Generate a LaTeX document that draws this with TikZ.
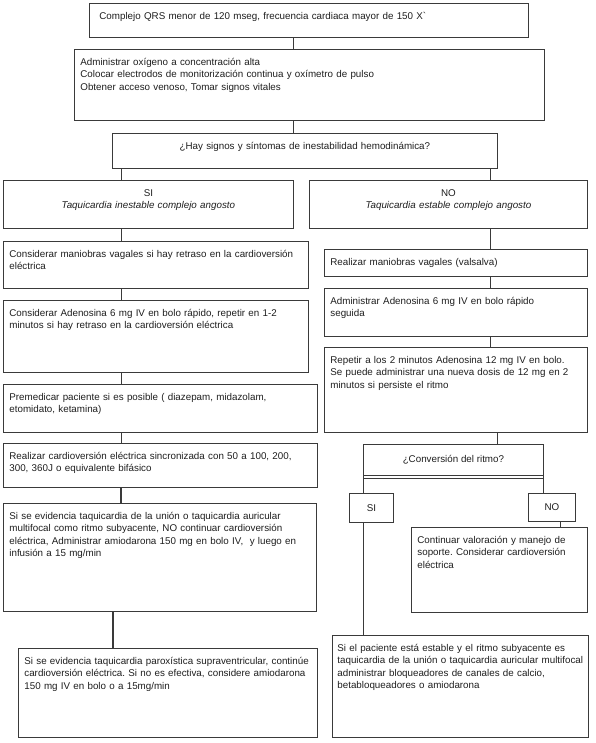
\documentclass[tikz,border=0pt]{standalone}
\usepackage{fontspec}
\setmainfont{Liberation Sans}
\usetikzlibrary{positioning,calc}
\definecolor{lineGray}{HTML}{3A3A3A}
\definecolor{txtGray}{HTML}{1E1E1E}

\begin{document}
\begin{tikzpicture}[
  x=1pt, y=-1pt,
  font=\fontsize{9.8}{12.4}\selectfont\frenchspacing,
  text=txtGray,
  box/.style={
    draw=lineGray, line width=0.8pt, anchor=north west, align=left,
    inner xsep=6pt, inner ysep=0pt, text height=16pt},
  cbox/.style={box, align=center},
  tag/.style={
    draw=lineGray, line width=0.8pt, anchor=north west, align=center,
    inner sep=0pt},
  ln/.style={draw=lineGray, line width=0.8pt},
  thk/.style={ln, line width=1.7pt},
]
\useasboundingbox (0,0) rectangle (595,743);

% ---------------- common trunk ----------------
\node[box, text width=427pt, text depth=18pt] (qrs) at (89,3)
  {\hspace{4pt}Complejo QRS menor de 120 mseg, frecuencia cardiaca mayor de 150 X\textasciigrave};

\node[box, text width=458pt, text depth=55pt] (oxig) at (74,49)
  {Administrar oxígeno a concentración alta\\
   Colocar electrodos de monitorización continua y oxímetro de pulso\\
   Obtener acceso venoso, Tomar signos vitales};

\node[cbox, text width=373pt, text depth=19pt] (inest) at (112,133)
  {¿Hay signos y síntomas de inestabilidad hemodinámica?};

% ---------------- unstable branch ----------------
\node[cbox, text width=278pt, text depth=32pt] (si) at (3,180)
  {SI\\ \textit{Taquicardia inestable complejo angosto}};

\node[box, text width=293pt, text depth=31pt] (vagal) at (3,241)
  {Considerar maniobras vagales si hay retraso en la cardioversión\\
   eléctrica};

\node[box, text width=293pt, text depth=56pt] (adeno) at (3,300)
  {Considerar Adenosina 6 mg IV en bolo rápido, repetir en 1-2\\
   minutos si hay retraso en la cardioversión eléctrica};

\node[box, text width=302pt, text depth=32pt] (premed) at (3,384)
  {Premedicar paciente si es posible ( diazepam, midazolam,\\
   etomidato, ketamina)};

\node[box, text width=302pt, text depth=28pt] (cardio) at (3,443)
  {Realizar cardioversión eléctrica sincronizada con 50 a 100, 200,\\
   300, 360J o equivalente bifásico};

\node[box, text width=301pt, text depth=92pt] (union) at (3,503)
  {Si se evidencia taquicardia de la unión o taquicardia auricular\\
   multifocal como ritmo subyacente, NO continuar cardioversión\\
   eléctrica, Administrar amiodarona 150 mg en bolo IV, \ y luego en\\
   infusión a 15 mg/min};

\node[box, text width=287pt, text depth=73pt] (parox) at (18,648)
  {Si se evidencia taquicardia paroxística supraventricular, continúe\\
   cardioversión eléctrica. Si no es efectiva, considere amiodarona\\
   150 mg IV en bolo o a 15mg/min};

% ---------------- stable branch ----------------
\node[cbox, text width=266pt, text depth=32pt] (no) at (309,180)
  {NO\\ \textit{Taquicardia estable complejo angosto}};

\node[box, text width=251pt, text depth=11pt] (valsalva) at (324,249)
  {Realizar maniobras vagales (valsalva)};

\node[box, text width=251pt, text depth=32pt] (adenoB) at (324,288)
  {Administrar Adenosina 6 mg IV en bolo rápido\\
   seguida};

\node[box, text width=251pt, text depth=69pt] (repetir) at (324,347)
  {Repetir a los 2 minutos Adenosina 12 mg IV en bolo.\\
   Se puede administrar una nueva dosis de 12 mg en 2\\
   minutos si persiste el ritmo};

\node[tag, minimum width=180pt, minimum height=31pt] (conver) at (363,444)
  {¿Conversión del ritmo?};
\node[tag, minimum width=44pt, minimum height=29pt] (siB) at (349,493) {SI};
\node[tag, minimum width=47pt, minimum height=28pt] (noB) at (528,493) {NO};

\node[box, text width=164pt, text depth=69pt] (soporte) at (411,527)
  {Continuar valoración y manejo de\\
   soporte. Considerar cardioversión\\
   eléctrica};

\node[box, inner xsep=5pt, text width=246pt, text depth=86pt] (estable) at (332,635)
  {Si el paciente está estable y el ritmo subyacente es\\
   taquicardia de la unión o taquicardia auricular multifocal\\
   administrar bloqueadores de canales de calcio,\\
   betabloqueadores o amiodarona};

% ---------------- connectors ----------------
\coordinate (mainx) at (293,0);
\coordinate (leftx) at (121,0);
\coordinate (lowx) at (113,0);
\coordinate (rightx) at (490,0);
\coordinate (convx) at (497,0);
\coordinate (nox) at (560,0);

\draw[ln] (qrs.south -| mainx) -- (oxig.north -| mainx);
\draw[ln] (oxig.south -| mainx) -- (inest.north -| mainx);

\draw[ln] (inest.south -| leftx) -- (si.north -| leftx);
\draw[ln] (si.south -| leftx) -- (vagal.north -| leftx);
\draw[ln] (vagal.south -| leftx) -- (adeno.north -| leftx);
\draw[ln] (adeno.south -| leftx) -- (premed.north -| leftx);
\draw[ln] (premed.south -| leftx) -- (cardio.north -| leftx);
\draw[thk] (cardio.south -| leftx) -- (union.north -| leftx);
\draw[thk] (union.south -| lowx) -- (parox.north -| lowx);

\draw[ln] (inest.south -| rightx) -- (no.north -| rightx);
\draw[ln] (no.south -| rightx) -- (valsalva.north -| rightx);
\draw[ln] (valsalva.south -| rightx) -- (adenoB.north -| rightx);
\draw[ln] (adenoB.south -| rightx) -- (repetir.north -| rightx);
\draw[ln] (repetir.south -| convx) -- (conver.north -| convx);

% rhythm conversion split
\draw[ln] ([yshift=-2.5pt]conver.south west) -- ([yshift=-2.5pt]conver.south east);
\draw[ln] (conver.south west) -- (siB.north -| conver.south west);
\draw[ln] (conver.south east) -- (noB.north -| conver.south east);
\draw[ln] (siB.south -| conver.south west) -- (estable.north -| conver.south west);
\draw[ln] (noB.south -| nox) -- (soporte.north -| nox);

\end{tikzpicture}
\end{document}
